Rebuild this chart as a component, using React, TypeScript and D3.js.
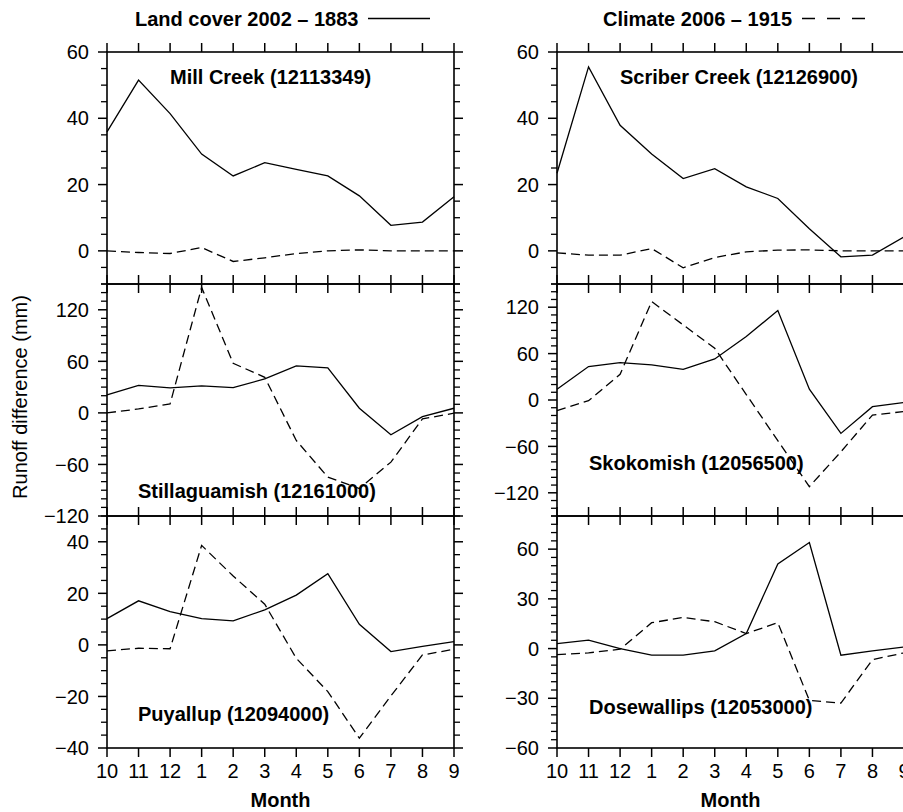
import React from "react";
import * as d3 from "d3";

const months = ["10", "11", "12", "1", "2", "3", "4", "5", "6", "7", "8", "9"];

const millLand = [35.9, 51.5, 41.4, 29.2, 22.6, 26.6, 24.6, 22.6, 16.6, 7.7, 8.7, 16.3];
const millClim = [0, -0.5, -0.8, 1.0, -3.2, -2.1, -0.8, 0, 0.3, 0, 0, 0];
const scriberLand = [23.4, 55.5, 37.9, 29.2, 21.8, 24.8, 19.3, 15.8, 6.7, -1.8, -1.3, 4.2];
const scriberClim = [-0.6, -1.3, -1.3, 0.7, -5.1, -2.0, -0.3, 0.2, 0.3, 0, 0, 0];
const stillLand = [20.9, 32.1, 29.0, 31.4, 29.4, 39.5, 54.6, 52.3, 5.4, -25.5, -4.3, 5.4];
const stillClim = [0, 4.6, 10.5, 146, 57.7, 41.4, -32.1, -74.7, -88, -57.3, -7, -0.4];
const skokLand = [13.8, 43.2, 48.3, 45.3, 39.7, 53.1, 82, 115.7, 13.9, -43.2, -8.7, -3.3];
const skokClim = [-13.8, -0.9, 33.2, 127.3, 97.1, 66.9, 7.1, -52.6, -112, -67, -19.4, -14.9];
const puyLand = [10.2, 17.1, 12.9, 10.2, 9.3, 13.6, 19.3, 27.6, 8.0, -2.6, -0.6, 1.3];
const puyClim = [-2.3, -1.3, -1.5, 38.6, 26.7, 15.8, -5.2, -18.1, -36.2, -19.8, -3.9, -1.7];
const doseLand = [3.0, 5.1, 0, -4.0, -4.0, -1.4, 9.1, 51.1, 64, -4.0, -1.4, 1];
const doseClim = [-3.6, -2.6, -0.4, 15.6, 18.8, 16.2, 9.1, 15.6, -31.3, -32.9, -6.7, -2.6];

const legendLand = "Land cover 2002 \u2013 1883";
const legendClim = "Climate 2006 \u2013 1915";

const FONT = "'Liberation Sans', Arial, Helvetica, sans-serif";
const W = 903;
const H = 812;
const cols = [
  { x0: 107, x1: 454 },
  { x0: 557, x1: 904 },
];
const rowTops = [52, 284, 516];
const rowH = 232;

const panels = [
  { name: "Mill Creek (12113349)", col: 0, row: 0, domain: [-10, 60], major: 20, minor: 5, land: millLand, clim: millClim, lx: 170, ly: 84 },
  { name: "Scriber Creek (12126900)", col: 1, row: 0, domain: [-10, 60], major: 20, minor: 5, land: scriberLand, clim: scriberClim, lx: 620, ly: 84 },
  { name: "Stillaguamish (12161000)", col: 0, row: 1, domain: [-120, 150], major: 60, minor: 10, land: stillLand, clim: stillClim, lx: 138, ly: 498 },
  { name: "Skokomish (12056500)", col: 1, row: 1, domain: [-150, 150], major: 60, minor: 10, land: skokLand, clim: skokClim, lx: 589, ly: 470 },
  { name: "Puyallup (12094000)", col: 0, row: 2, domain: [-40, 50], major: 20, minor: 5, land: puyLand, clim: puyClim, lx: 138, ly: 721 },
  { name: "Dosewallips (12053000)", col: 1, row: 2, domain: [-60, 80], major: 30, minor: 5, land: doseLand, clim: doseClim, lx: 589, ly: 714 },
];

const fmt = (v: number) => (v < 0 ? "\u2212" + Math.abs(v) : String(v));

function Panel({ p }: { p: any }) {
  const c = cols[p.col];
  const top = rowTops[p.row];
  const bottom = top + rowH;
  const x = d3.scaleLinear().domain([0, months.length - 1]).range([c.x0, c.x1]);
  const y = d3.scaleLinear().domain(p.domain).range([bottom, top]);
  const [lo, hi] = p.domain;
  const majors = d3.range(Math.ceil(lo / p.major) * p.major, hi + 1e-9, p.major);
  const minors = d3
    .range(Math.ceil(lo / p.minor) * p.minor, hi + 1e-9, p.minor)
    .filter((v) => Math.abs(v / p.major - Math.round(v / p.major)) > 1e-9);
  const line = d3
    .line<number>()
    .x((_, i) => x(i))
    .y((v) => y(v));
  const majLen = 9;
  const minLen = 6;
  return (
    <g>
      {minors.map((v) => (
        <g key={"mi" + v}>
          <line x1={c.x0 - minLen} x2={c.x0} y1={y(v)} y2={y(v)} stroke="#000" strokeWidth={1.3} />
          <line x1={c.x1} x2={c.x1 + minLen} y1={y(v)} y2={y(v)} stroke="#000" strokeWidth={1.3} />
        </g>
      ))}
      {majors.map((v) => (
        <g key={"ma" + v}>
          <line x1={c.x0 - majLen} x2={c.x0} y1={y(v)} y2={y(v)} stroke="#000" strokeWidth={1.5} />
          <line x1={c.x1} x2={c.x1 + majLen} y1={y(v)} y2={y(v)} stroke="#000" strokeWidth={1.5} />
          <text x={c.x0 - 18} y={y(v)} dy="0.36em" textAnchor="end" fontSize={20} fontFamily={FONT}>
            {fmt(v)}
          </text>
        </g>
      ))}
      {months.map((m, i) => (
        <g key={"xt" + i}>
          <line x1={x(i)} x2={x(i)} y1={top - majLen} y2={top} stroke="#000" strokeWidth={1.5} />
          <line x1={x(i)} x2={x(i)} y1={bottom} y2={bottom + majLen} stroke="#000" strokeWidth={1.5} />
        </g>
      ))}
      <rect x={c.x0} y={top} width={c.x1 - c.x0} height={rowH} fill="none" stroke="#000" strokeWidth={1.6} />
      <text x={p.lx} y={p.ly} fontSize={20} fontWeight="bold" fontFamily={FONT}>
        {p.name}
      </text>
      <path d={line(p.land) || ""} fill="none" stroke="#000" strokeWidth={1.3} />
      <path d={line(p.clim) || ""} fill="none" stroke="#000" strokeWidth={1.3} strokeDasharray="9,5" />
      {p.row === 2 &&
        months.map((m, i) => (
          <text key={"xl" + i} x={x(i)} y={778} textAnchor="middle" fontSize={20} fontFamily={FONT}>
            {m}
          </text>
        ))}
      {p.row === 2 && (
        <text x={(c.x0 + c.x1) / 2} y={807} textAnchor="middle" fontSize={20} fontWeight="bold" fontFamily={FONT}>
          Month
        </text>
      )}
    </g>
  );
}

export default function App() {
  return (
    <svg
      width={W}
      height={H}
      viewBox={`0 0 ${W} ${H}`}
      style={{ position: "absolute", left: 0, top: 0, background: "#fff" }}
    >
      <rect x={0} y={0} width={W} height={H} fill="#fff" />
      <text x={135} y={26} fontSize={20} fontWeight="bold" fontFamily={FONT}>
        {legendLand}
      </text>
      <line x1={368} x2={430} y1={18.5} y2={18.5} stroke="#000" strokeWidth={1.3} />
      <text x={603} y={26} fontSize={20} fontWeight="bold" fontFamily={FONT}>
        {legendClim}
      </text>
      <line x1={802} x2={865} y1={18.5} y2={18.5} stroke="#000" strokeWidth={1.3} strokeDasharray="13,12" />
      <text transform="translate(27,397) rotate(-90)" textAnchor="middle" fontSize={20} fontFamily={FONT}>
        Runoff difference (mm)
      </text>
      {panels.map((p) => (
        <Panel key={p.name} p={p} />
      ))}
    </svg>
  );
}
